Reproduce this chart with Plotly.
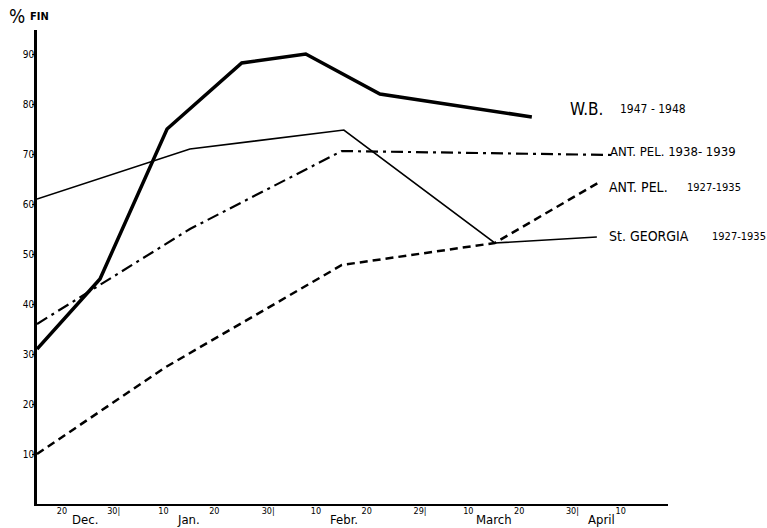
import plotly.graph_objects as go

# x: days counted from 1 Dec, each month treated as 30 days (Dec 20 = 20, Jan 10 = 40, ...)
wb_x = [15.1, 27.5, 40.7, 55.4, 68.0, 82.6, 112.5]
wb_y = [31, 45, 75, 88.2, 90, 82, 77.4]

stg_x = [15.1, 45.2, 75.5, 105.2, 125.3]
stg_y = [61, 71, 74.8, 52.2, 53.4]

ap38_x = [15.1, 45.2, 75.1, 128.3]
ap38_y = [36, 55, 70.6, 69.8]

ap27_x = [15.1, 40.3, 75.1, 105.2, 125.5]
ap27_y = [10, 27.3, 47.8, 52.2, 64.2]

y_ticks = [10, 20, 30, 40, 50, 60, 70, 80, 90]
x_tickvals = [20, 30.2, 40, 50, 60.6, 70, 80, 90.5, 100, 110, 120.5, 130]
x_ticktext = ["20", "30|", "10", "20", "30|", "10", "20", "29|", "10", "20", "30|", "10"]
month_pos = [24.5, 45, 75.5, 105, 126.3]
month_names = ["Dec.", "Jan.", "Febr.", "March", "April"]

FONT = "DejaVu Sans Condensed, DejaVu Sans"

X0, X1 = 15.1, 139.3
Y0, Y1 = 0, 94.8

def px(xv):
    return (xv - X0) / (X1 - X0)

def py(yv):
    return (yv - Y0) / (Y1 - Y0)

fig = go.Figure()
fig.add_trace(go.Scatter(x=wb_x, y=wb_y, mode="lines", name="W.B. 1947-1948",
                         line=dict(color="black", width=3.5)))
fig.add_trace(go.Scatter(x=stg_x, y=stg_y, mode="lines", name="St. GEORGIA 1927-1935",
                         line=dict(color="black", width=1.6)))
fig.add_trace(go.Scatter(x=ap38_x, y=ap38_y, mode="lines", name="ANT. PEL. 1938-1939",
                         line=dict(color="black", width=2.2, dash="12px,5px,3px,5px")))
fig.add_trace(go.Scatter(x=ap27_x, y=ap27_y, mode="lines", name="ANT. PEL. 1927-1935",
                         line=dict(color="black", width=2.5, dash="8px,5px")))

ann = []
ann.append(dict(x=-0.048, y=1.03, xref="paper", yref="paper", xanchor="left", yanchor="middle",
                text="%", showarrow=False, font=dict(family=FONT, size=19, color="black")))
ann.append(dict(x=-0.015, y=1.029, xref="paper", yref="paper", xanchor="left", yanchor="middle",
                text="<b>FIN</b>", showarrow=False, font=dict(family=FONT, size=11, color="black")))
for name, xp in zip(month_names, month_pos):
    ann.append(dict(x=px(xp), y=0, xref="paper", yref="paper", xanchor="center", yanchor="middle",
                    yshift=-15, text=name, showarrow=False,
                    font=dict(family=FONT, size=13, color="black")))
labels = [
    ("W.B.", 119.6, 79, 17), ("1947 - 1948", 129.4, 79, 12),
    ("ANT. PEL. 1938- 1939", 127.5, 70.6, 13),
    ("ANT. PEL.", 127.3, 63.4, 14), ("1927-1935", 142.6, 63.2, 11),
    ("St. GEORGIA", 127.3, 53.6, 14), ("1927-1935", 147.6, 53.6, 11),
]
for t, xv, yv, fs in labels:
    ann.append(dict(x=px(xv), y=py(yv), xref="paper", yref="paper", xanchor="left", yanchor="middle",
                    text=t, showarrow=False, font=dict(family=FONT, size=fs, color="black")))

fig.update_layout(
    width=767, height=528,
    margin=dict(l=37, r=99, t=30, b=24, autoexpand=False),
    paper_bgcolor="white", plot_bgcolor="white",
    showlegend=False,
    annotations=ann,
    xaxis=dict(range=[X0, X1], tickvals=x_tickvals, ticktext=x_ticktext, automargin=False,
               showgrid=False, zeroline=False, showline=True, linecolor="black", linewidth=2,
               ticks="", ticklabelstandoff=-3, tickfont=dict(family=FONT, size=9, color="black")),
    yaxis=dict(range=[Y0, Y1], tickvals=y_ticks, showgrid=False, zeroline=False, automargin=False,
               showline=True, linecolor="black", linewidth=2.5, ticks="outside", ticklen=2,
               ticklabelstandoff=-4,
               tickcolor="black", tickfont=dict(family=FONT, size=10, color="black")),
)
fig.write_html("out.html", config={"displayModeBar": False},
               post_script="document.body.style.margin='0';document.body.style.overflow='hidden';")
